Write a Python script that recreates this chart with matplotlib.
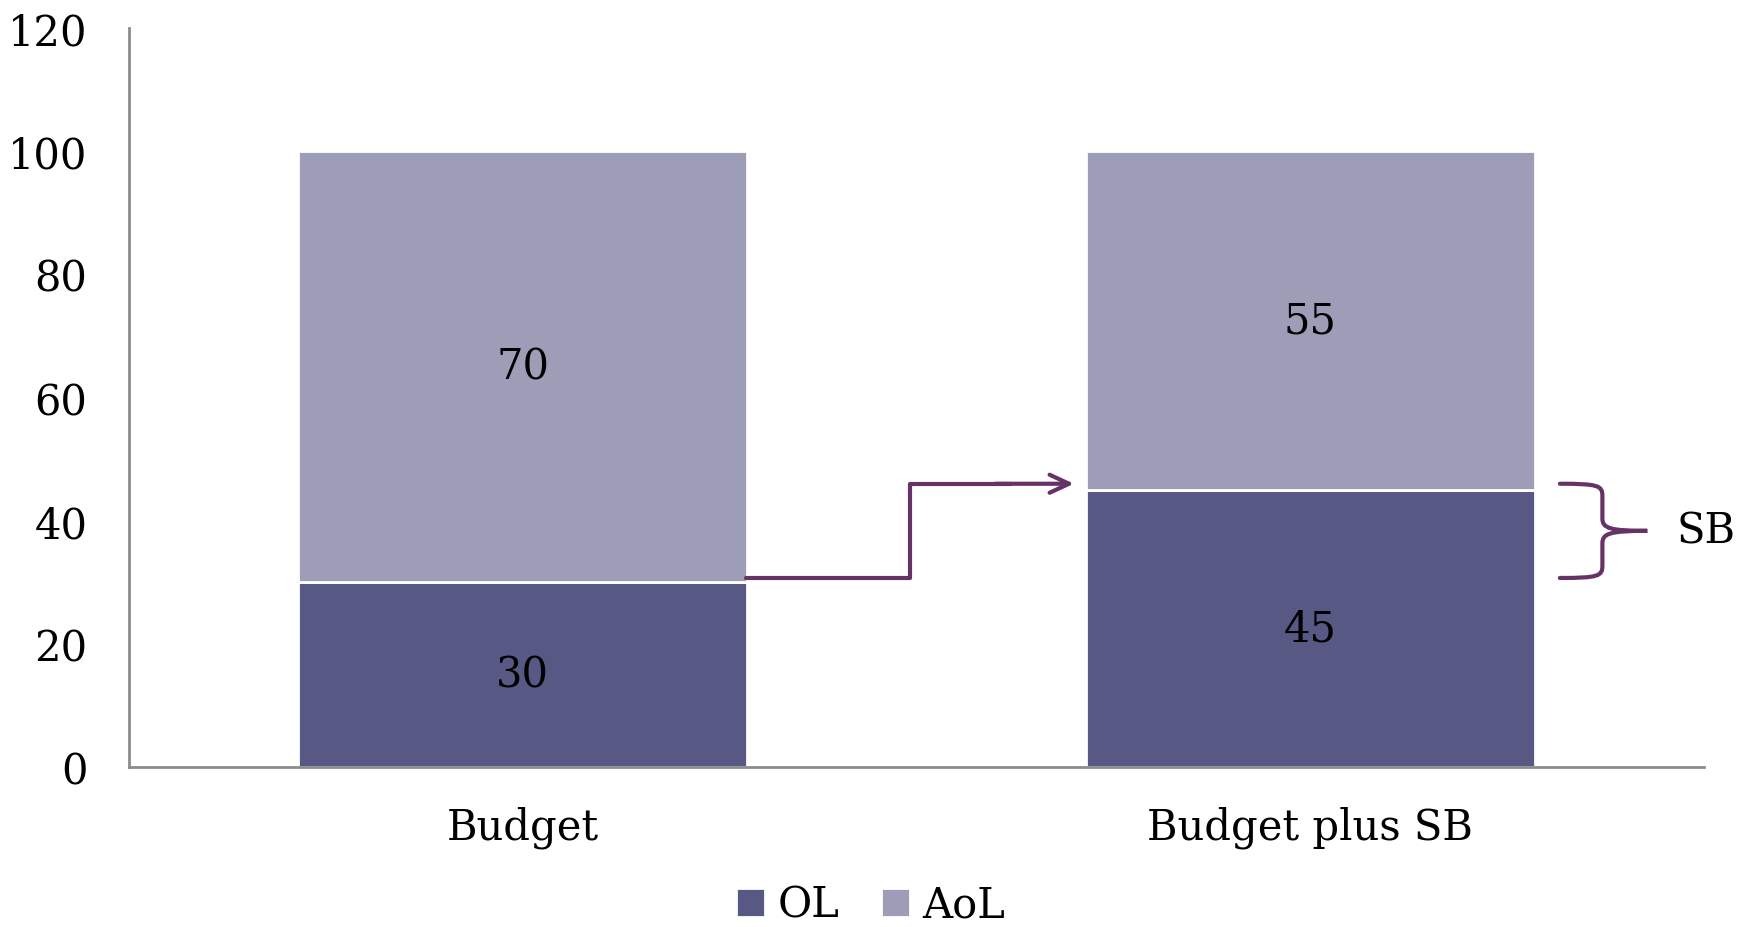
import matplotlib
matplotlib.use("Agg")
import matplotlib.pyplot as plt
from matplotlib.path import Path
from matplotlib.patches import PathPatch

plt.rcParams['font.family'] = ['DejaVu Serif']

categories = ['Budget', 'Budget plus SB']
ol_values = [30, 45]
aol_values = [70, 55]
yticks = [0, 20, 40, 60, 80, 100, 120]

c_ol = '#585884'
c_aol = '#9d9db8'
c_arrow = '#663366'

fig = plt.figure(figsize=(17.52, 9.28), dpi=100)
ax = fig.add_axes([0.0736, 0.1724, 0.899, 0.7963])

x = list(range(len(categories)))
b1 = ax.bar(x, ol_values, width=0.57, color=c_ol, edgecolor='white', linewidth=2, label='OL')
b2 = ax.bar(x, aol_values, width=0.57, bottom=ol_values, color=c_aol, edgecolor='white',
            linewidth=2, label='AoL')

for i in x:
    ax.text(i, ol_values[i] / 2, str(ol_values[i]), ha='center', va='center', fontsize=30)
    ax.text(i, ol_values[i] + aol_values[i] / 2, str(aol_values[i]), ha='center', va='center',
            fontsize=30)

ax.set_xlim(-0.5, 1.5)
ax.set_ylim(0, 120)
ax.set_yticks(yticks)
ax.set_xticks(x)
ax.set_xticklabels(categories)
ax.tick_params(axis='both', length=0, labelsize=30)
ax.tick_params(axis='y', pad=30)
ax.tick_params(axis='x', pad=28)
for s in ['top', 'right']:
    ax.spines[s].set_visible(False)
for s in ['left', 'bottom']:
    ax.spines[s].set_color('#8c8c8c')
    ax.spines[s].set_linewidth(2)

# step arrow from OL of Budget to OL of Budget plus SB
y0 = ol_values[0] + 0.7
y1 = ol_values[1] + 1.0
ax.plot([0.284, 0.492, 0.492, 0.62], [y0, y0, y1, y1], color=c_arrow, lw=3,
        solid_joinstyle='round', solid_capstyle='round')
ax.annotate('', xy=(0.70, y1), xytext=(0.60, y1),
            arrowprops=dict(arrowstyle='->,head_length=1.4,head_width=0.65', color=c_arrow, lw=3,
                            shrinkA=0, shrinkB=0, capstyle='round', joinstyle='round'))

# brace for SB
xl, xv, xt = 1.317, 1.371, 1.428
yt, yb = y1, y0
ym = (yt + yb) / 2
verts = [
    (xl, yt), (xv - 0.005, yt), (xv, yt - 0.3), (xv, yt - 2.0),
    (xv, ym + 2.0),
    (xv, ym + 0.4), (xv + 0.01, ym), (xt, ym),
    (xv + 0.01, ym), (xv, ym - 0.4), (xv, ym - 2.0),
    (xv, yb + 2.0),
    (xv, yb + 0.3), (xv - 0.005, yb), (xl, yb),
]
codes = [Path.MOVETO, Path.CURVE4, Path.CURVE4, Path.CURVE4,
         Path.LINETO,
         Path.CURVE4, Path.CURVE4, Path.CURVE4,
         Path.CURVE4, Path.CURVE4, Path.CURVE4,
         Path.LINETO,
         Path.CURVE4, Path.CURVE4, Path.CURVE4]
ax.add_patch(PathPatch(Path(verts, codes), facecolor='none', edgecolor=c_arrow, lw=3,
                       clip_on=False, capstyle='round'))
ax.text(1.502, ym, 'SB', ha='center', va='center', fontsize=30, clip_on=False)

fig.legend(handles=[b1, b2], loc='center', bbox_to_anchor=(0.497, 0.024), ncol=2,
           frameon=False, fontsize=30, handlelength=0.7, handleheight=0.7,
           handletextpad=0.3, columnspacing=1.0)

fig.savefig('out.png', dpi=100)
